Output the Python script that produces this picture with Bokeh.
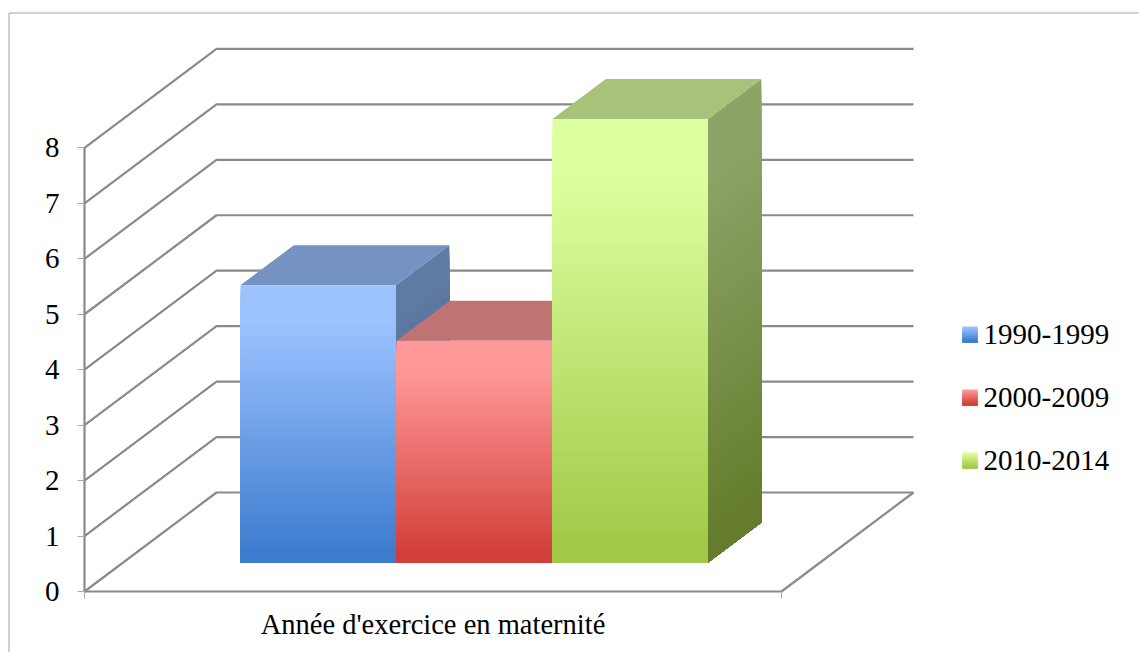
from bokeh.plotting import figure
from bokeh.embed import file_html
from bokeh.resources import INLINE
from bokeh.models import Range1d, LinearAxis, FixedTicker, NumeralTickFormatter
from bokeh.core.properties import value

# Data
series = ["1990-1999", "2000-2009", "2010-2014"]
values = [5, 4, 8]
category = "Année d'exercice en maternité"
grid_values = [0, 1, 2, 3, 4, 5, 6, 7, 8]

# Colours (front top, front bottom, side top, side bottom, top face)
front_top = ["#9DC3FF", "#FF9999", "#DDFF9F"]
front_bottom = ["#3D7CCF", "#D13F3A", "#A2CA48"]
side_top = ["#5F7AA3", "#A35F5F", "#8CA466"]
side_bottom = ["#2F558C", "#8C2F2F", "#647C2C"]
top_face = ["#7593C2", "#C07373", "#A8C27A"]
GRID = "#8A8A8A"
FONT = "Liberation Serif"
FS = "29px"

# Page geometry
W, H = 1139, 652
OX, OY = 0, 0             # where the figure lies on the page
X0, X1 = 84.0, 781.0      # front floor edge on the page
Y0, UNIT = 591.0, 55.45   # page y of value 0, pixels per unit
DEPTH_X, DEPTH_Y = 132.0, 99.0


def page_x(x):
    return (x - X0) / (X1 - X0)


def page_y(y):
    return (Y0 - y) / UNIT


DX = DEPTH_X / (X1 - X0)
DY = DEPTH_Y / UNIT


def proj(x, v, d):
    return x + d * DX, v + d * DY


p = figure(width=W, height=H, output_backend="svg", toolbar_location=None,
           x_range=Range1d(page_x(OX), page_x(OX + W)),
           y_range=Range1d(page_y(OY + H), page_y(OY)),
           x_axis_type=None, y_axis_type=None,
           min_border=0, min_border_left=0, min_border_right=0,
           min_border_top=0, min_border_bottom=0, outline_line_color=None)
p.grid.visible = False

# Chart frame (top and left edges)
p.segment(page_x(8.5), page_y(12.5), page_x(OX + W), page_y(12.5), line_color="#A6A6A6", line_width=1.2)
p.segment(page_x(8.5), page_y(12.5), page_x(8.5), page_y(OY + H), line_color="#B4B4B4", line_width=1.2)

# Gridlines on walls
gx, gy = [], []
for v in grid_values:
    a = proj(0, v, 0)
    b = proj(0, v, 1)
    c = proj(1, v, 1)
    gx.append([a[0], b[0], c[0]])
    gy.append([a[1], b[1], c[1]])
p.multi_line(gx, gy, line_color=GRID, line_width=2.2)
# Floor right edge
a, b = proj(1, 0, 0), proj(1, 0, 1)
p.line([a[0], b[0]], [a[1], b[1]], line_color=GRID, line_width=2.2)


def mix(c1, c2, t):
    r1 = [int(c1[i:i + 2], 16) for i in (1, 3, 5)]
    r2 = [int(c2[i:i + 2], 16) for i in (1, 3, 5)]
    return "#%02x%02x%02x" % tuple(round(u + (w - u) * t) for u, w in zip(r1, r2))


def ramp(t):
    # gradient holds the top colour briefly, then runs to the bottom colour
    return min(1.0, max(0.0, (t - 0.12) / 0.85))


# Bars
BAR_LEFT = [page_x(240 - 38.7), page_x(396 - 38.7), page_x(552 - 38.7)]
BAR_W = 155.5 / (X1 - X0)
D_FRONT, D_BACK = 29.0 / 99.0, 69.0 / 99.0
N = 60

for i, v in enumerate(values):
    x0, x1 = BAR_LEFT[i], BAR_LEFT[i] + BAR_W
    for k in range(N):
        t = k / (N - 1)
        h = v * (1 - k / N)
        a = proj(x1, 0, D_FRONT)
        b = proj(x1, 0, D_BACK)
        c = proj(x1, h, D_BACK)
        d = proj(x1, h, D_FRONT)
        p.patch([a[0], b[0], c[0], d[0]], [a[1], b[1], c[1], d[1]],
                fill_color=mix(side_top[i], side_bottom[i], ramp(t)), line_color=None)
    a = proj(x0, v, D_FRONT)
    b = proj(x1, v, D_FRONT)
    c = proj(x1, v, D_BACK)
    d = proj(x0, v, D_BACK)
    p.patch([a[0], b[0], c[0], d[0]], [a[1], b[1], c[1], d[1]], fill_color=top_face[i], line_color=None)
    fx0, base = proj(x0, 0, D_FRONT)
    fx1, _ = proj(x1, 0, D_FRONT)
    tops = [base + v * (1 - k / N) for k in range(N)]
    cols = [mix(front_top[i], front_bottom[i], ramp(k / (N - 1))) for k in range(N)]
    p.quad(left=fx0, right=fx1, bottom=base, top=tops, fill_color=cols, line_color=None)

# Axes
yaxis = LinearAxis(fixed_location=0, bounds=(0, 8), ticker=FixedTicker(ticks=grid_values),
                   axis_line_color=GRID, axis_line_width=2.2, major_tick_line_color="#A8A8A8",
                   major_tick_line_width=1, major_tick_out=7, major_tick_in=0,
                   minor_tick_out=0, minor_tick_in=0, major_label_standoff=18,
                   major_label_text_font=FONT, major_label_text_font_size=FS,
                   major_label_text_color="#000000",
                   formatter=NumeralTickFormatter(format="0"))
p.add_layout(yaxis, "left")
xaxis = LinearAxis(fixed_location=0, bounds=(0, 1), ticker=FixedTicker(ticks=[0, 1]),
                   axis_line_color=GRID, axis_line_width=2.2, major_tick_line_color="#A8A8A8",
                   major_tick_line_width=1, major_tick_out=7, major_tick_in=0,
                   minor_tick_out=0, minor_tick_in=0, major_label_overrides={0: "", 1: ""})
p.add_layout(xaxis, "below")

# Category label
p.text([page_x(432.5)], [page_y(624)], text=[category], text_font=value(FONT), text_font_size="28.5px",
       text_align="center", text_baseline="middle", text_color="#000000")

# Legend
LEG_Y = [334.0, 397.0, 460.0]
for i, name in enumerate(series):
    yc = LEG_Y[i]
    n = 15
    tops = [page_y(yc - 8 + k) for k in range(n)]
    cols = [mix(front_top[i], front_bottom[i], k / (n - 1)) for k in range(n)]
    p.quad(left=page_x(962), right=page_x(977), bottom=page_y(yc + 8), top=tops,
           fill_color=cols, line_color=None)
    p.text([page_x(983)], [page_y(yc - 0.5)], text=[name], text_font=value(FONT), text_font_size=FS,
           text_align="left", text_baseline="middle", text_color="#000000")

open("out.html", "w").write(file_html(p, INLINE))
